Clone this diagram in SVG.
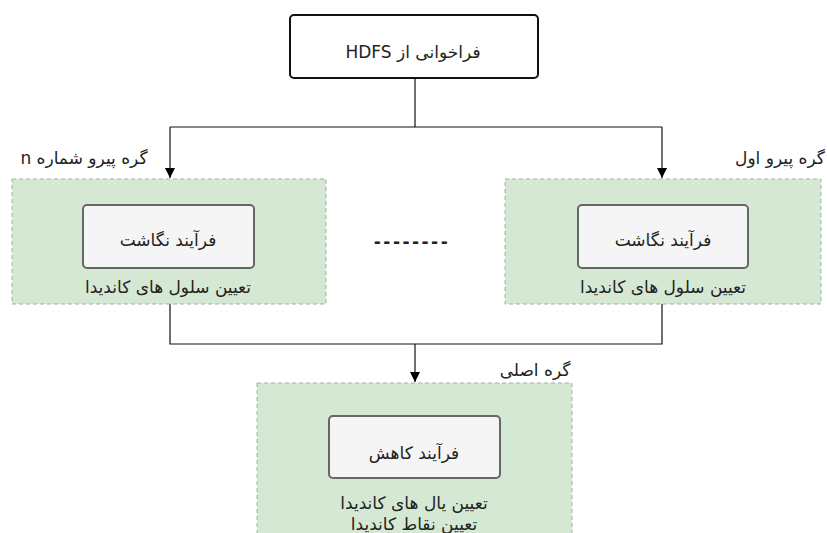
<svg xmlns="http://www.w3.org/2000/svg" width="827" height="533" viewBox="0 0 827 533">
  <defs>
    <marker id="arrow" viewBox="0 0 10 10" refX="10" refY="5" markerWidth="10" markerHeight="10" markerUnits="userSpaceOnUse" orient="auto">
      <path d="M0,0 L10,5 L0,10 Z" fill="#000"/>
    </marker>
  </defs>
  <style>
    text { font-family: "DejaVu Sans", "Noto Sans", sans-serif; font-size: 17px; fill: #222; direction: rtl; unicode-bidi: embed; }
    .group { fill: #d5e8d4; stroke: #9fb59a; stroke-width: 1; stroke-dasharray: 4 3; }
    .proc { fill: #f5f5f5; stroke: #666; stroke-width: 2; }
    .top { fill: #fff; stroke: #111; stroke-width: 2; }
    .conn { fill: none; stroke: #111; stroke-width: 1.2; }
  </style>
  <rect width="827" height="533" fill="#fff"/>

  <g id="connectors">
    <path class="conn" d="M415,78 V127"/>
    <path class="conn" d="M170,127 H662"/>
    <path class="conn" d="M170,127 V178" marker-end="url(#arrow)"/>
    <path class="conn" d="M662,127 V178" marker-end="url(#arrow)"/>
    <path class="conn" d="M170,304 V344 H662 V304"/>
    <path class="conn" d="M415,344 V382" marker-end="url(#arrow)"/>
  </g>

  <g id="hdfs">
    <rect class="top" x="290" y="15" width="248" height="63" rx="4"/>
    <text x="413" y="58" text-anchor="middle">فراخوانی از HDFS</text>
  </g>

  <g id="worker-n">
    <rect class="group" x="12" y="179" width="314" height="125"/>
    <text x="84" y="164" text-anchor="middle">گره پیرو شماره n</text>
    <rect class="proc" x="83" y="205" width="171" height="63" rx="4"/>
    <text x="168" y="246" text-anchor="middle">فرآیند نگاشت</text>
    <text x="168" y="293" text-anchor="middle">تعیین سلول های کاندیدا</text>
  </g>

  <g id="worker-1">
    <rect class="group" x="505" y="179" width="316" height="125"/>
    <text x="780" y="164" text-anchor="middle">گره پیرو اول</text>
    <rect class="proc" x="578" y="205" width="170" height="63" rx="4"/>
    <text x="663" y="246" text-anchor="middle">فرآیند نگاشت</text>
    <text x="663" y="293" text-anchor="middle">تعیین سلول های کاندیدا</text>
  </g>

  <g id="ellipsis">
    <text x="412" y="248" text-anchor="middle" style="direction:ltr; letter-spacing:2.5px; font-weight:bold">--------</text>
  </g>

  <g id="master">
    <rect class="group" x="257" y="383" width="315" height="170"/>
    <text x="535" y="376" text-anchor="middle">گره اصلی</text>
    <rect class="proc" x="329" y="416" width="171" height="62" rx="4"/>
    <text x="414" y="459" text-anchor="middle">فرآیند کاهش</text>
    <text x="414" y="509" text-anchor="middle">تعیین یال های کاندیدا</text>
    <text x="414" y="530" text-anchor="middle">تعیین نقاط کاندیدا</text>
  </g>
</svg>
